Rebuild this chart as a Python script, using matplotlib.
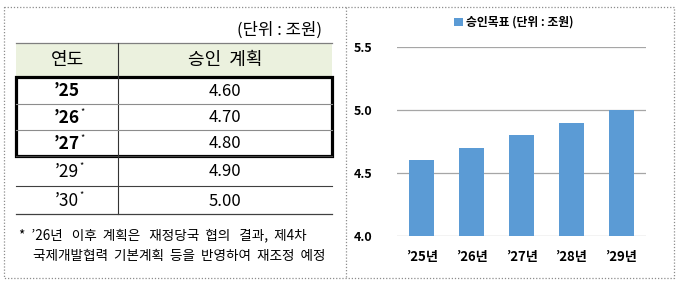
import matplotlib
matplotlib.use("Agg")
import matplotlib.pyplot as plt
from matplotlib.patches import Rectangle
from matplotlib.lines import Line2D

plt.rcParams['font.family'] = ['Noto Sans CJK KR', 'DejaVu Sans']

# table data
years = ['’25', '’26', '’27', '’29', '’30']
plans = ['4.60', '4.70', '4.80', '4.90', '5.00']
starred = [False, True, True, True, True]
bold_rows = [True, True, True, False, False]
footnote = ['*  ’26년   이후  계획은   재정당국  협의   결과,  제4차',
            '국제개발협력  기본계획  등을  반영하여  재조정  예정']

# chart data
bar_labels = ['’25년', '’26년', '’27년', '’28년', '’29년']
bar_values = [4.6, 4.7, 4.8, 4.9, 5.0]
legend_label = '승인목표 (단위 : 조원)'

W, H = 680, 286
fig = plt.figure(figsize=(W / 100, H / 100), dpi=100)


def px_axes(x, y, w, h):
    return fig.add_axes([x / W, 1 - (y + h) / H, w / W, h / H])


# whole figure as pixel canvas for frame and table
bg = px_axes(0, 0, W, H)
bg.set_xlim(0, W)
bg.set_ylim(H, 0)
bg.axis('off')

dot = dict(color='#8c8c8c', lw=0.9, ls=(0, (1, 1.5)))
bg.add_line(Line2D([4, 674, 674, 4, 4], [6.5, 6.5, 278, 278, 6.5], **dot))
bg.add_line(Line2D([345.5, 345.5], [6.5, 278], **dot))

# unit text
bg.text(322, 30, '(단위 : 조원)', ha='right', va='center', fontsize=12)

# table
tx0, tx1, tdiv = 16, 332, 118
hdr_top, hdr_bot = 43, 77
row_edges = [77, 104, 130, 156, 186, 214]
bg.add_patch(Rectangle((tx0, hdr_top), tx1 - tx0, hdr_bot - hdr_top,
                       facecolor='#ebf1de', edgecolor='none'))
bg.add_line(Line2D([tx0, tx1], [hdr_top, hdr_top], color='#7f7f7f', lw=0.9))
bg.add_line(Line2D([tdiv, tdiv], [hdr_top, row_edges[-1]], color='#333333', lw=0.8))
bg.text((tx0 + tdiv) / 2, (hdr_top + hdr_bot) / 2, '연도', ha='center', va='center', fontsize=13)
bg.text((tdiv + tx1) / 2, (hdr_top + hdr_bot) / 2, '승인  계획', ha='center', va='center', fontsize=13)

for i, (yr, val) in enumerate(zip(years, plans)):
    yc = (row_edges[i] + row_edges[i + 1]) / 2
    t = bg.text((tx0 + tdiv) / 2, yc + 1, yr, ha='center', va='center', fontsize=12.5,
                fontweight='bold' if bold_rows[i] else 'normal')
    if starred[i]:
        bg.annotate('*', xy=(1, 1), xycoords=t, xytext=(0.5, -1.8), textcoords='offset points',
                    ha='left', va='center', fontsize=6.5)
    bg.text((tdiv + tx1) / 2, yc + 1, val, ha='center', va='center', fontsize=12)
    if 0 < i < len(years):
        bg.add_line(Line2D([tx0, tx1], [row_edges[i], row_edges[i]],
                           color='#8c8c8c' if i < 3 else '#404040', lw=0.8))
bg.add_line(Line2D([tx0, tx1], [row_edges[-1], row_edges[-1]], color='#404040', lw=0.9))
bg.add_patch(Rectangle((tx0, row_edges[0]), tx1 - tx0, row_edges[3] - row_edges[0],
                       facecolor='none', edgecolor='black', lw=2.3))

bg.text(19, 235, footnote[0], ha='left', va='center', fontsize=9.8)
bg.text(33, 256, footnote[1], ha='left', va='center', fontsize=9.8)

# bar chart
ax = px_axes(397, 47, 249, 189)
xs = range(len(bar_values))
ax.bar(xs, [v - 4.0 for v in bar_values], bottom=4.0, width=0.5, color='#5b9bd5',
       zorder=3, label=legend_label)
ax.set_xlim(-0.5, len(bar_values) - 0.5)
ax.set_ylim(4.0, 5.5)
ax.set_yticks([4.0, 4.5, 5.0, 5.5])
ax.set_yticklabels(['4.0', '4.5', '5.0', '5.5'], fontsize=9, fontweight='bold')
ax.set_xticks(list(xs))
ax.set_xticklabels(bar_labels, fontsize=9.5, fontweight='bold')
ax.grid(axis='y', color='#a6a6a6', lw=0.9, zorder=0)
ax.tick_params(length=0, pad=10)
ax.tick_params(axis='y', pad=18)
for s in ax.spines.values():
    s.set_visible(False)
ax.set_facecolor('none')
ax.legend(loc='lower center', bbox_to_anchor=(0.47, 1.04), frameon=False,
          handlelength=0.7, handleheight=0.7, handletextpad=0.3, prop={'weight': 'bold', 'size': 8.5})

fig.savefig('out.png', dpi=100)
